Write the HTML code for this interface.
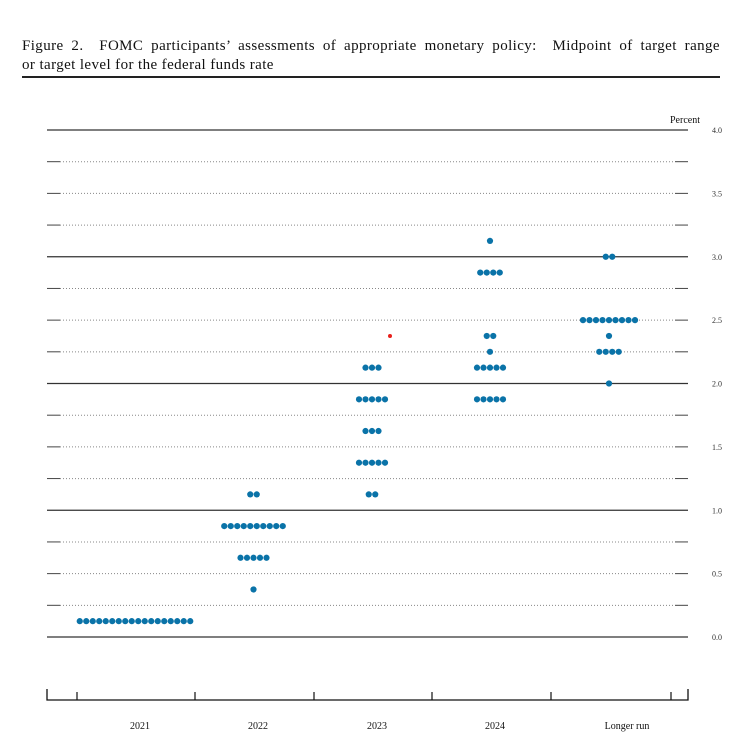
<!DOCTYPE html>
<html><head><meta charset="utf-8"><style>
body{margin:0;background:#fff;width:743px;height:755px;overflow:hidden;font-family:"Liberation Serif",serif}
.t{position:absolute;left:22px;font-size:15px;line-height:19px;color:#111;width:698px;white-space:nowrap;letter-spacing:0.4px}
.l1{top:37px;text-align:justify;text-align-last:justify}
.l2{top:56px}
.rule{position:absolute;left:22px;top:76px;width:698px;height:2px;background:#222}
</style></head><body>
<div>
<div class="t l1">Figure 2.&nbsp; FOMC participants’ assessments of appropriate monetary policy:&nbsp; Midpoint of target range</div>
<div class="t l2">or target level for the federal funds rate</div>
</div>
<div class="rule"></div>
<svg id="c" width="743" height="755" style="position:absolute;left:0;top:0"></svg>
<script>
const categories=["2021","2022","2023","2024","Longer run"];
const levels=[
 [0.125],
 [1.125,0.875,0.625,0.375],
 [2.125,1.875,1.625,1.375,1.125],
 [3.125,2.875,2.375,2.25,2.125,1.875],
 [3.0,2.5,2.375,2.25,2.0]];
const counts=[
 [18],
 [2,10,5,1],
 [3,5,3,5,2],
 [1,4,2,1,5,5],
 [2,9,1,4,1]];
const medianMarker={cat:2,value:2.375};
const yTicks=[0,0.5,1,1.5,2,2.5,3,3.5,4];
const yTickLabels=["0.0","0.5","1.0","1.5","2.0","2.5","3.0","3.5","4.0"];
const ns="http://www.w3.org/2000/svg";
const svg=document.getElementById('c');
const y=v=>637-v*126.75;
const centers=[135,253.5,372,490,609];
const x=i=>centers[i];
function mk(t,a){const e=document.createElementNS(ns,t);for(const k in a)e.setAttribute(k,a[k]);svg.appendChild(e);return e;}
for(let v=0;v<=4.001;v+=0.25){
 const major=Math.abs(v-Math.round(v))<1e-6;
 const yy=y(v);
 let l;
 if(major){l=mk('line',{x1:47,x2:688,y1:yy,y2:yy,stroke:'#333','stroke-width':1.2});}
 else{
  mk('line',{x1:47,x2:60,y1:yy,y2:yy,stroke:'#444','stroke-width':1});
  l=mk('line',{x1:60,x2:675,y1:yy,y2:yy,stroke:'#888','stroke-width':1,'stroke-dasharray':'1,2'});
  mk('line',{x1:675,x2:688,y1:yy,y2:yy,stroke:'#444','stroke-width':1});
 }
 
 
}
yTicks.forEach((v,i)=>{const t=mk('text',{x:712,y:y(v)+3,'font-size':8,'font-family':'Liberation Serif, serif',fill:'#333'});t.textContent=yTickLabels[i];
 
 });
const p=mk('text',{x:670,y:123,'font-size':10,'font-family':'Liberation Serif, serif',fill:'#111'});p.textContent='Percent';


const ax=mk('path',{d:'M47,689V700H688V689',fill:'none',stroke:'#111','stroke-width':1.3});


[77,195,314,432,551,671].forEach(tx=>{const t=mk('line',{x1:tx,x2:tx,y1:692,y2:700,stroke:'#111','stroke-width':1.2});
 
 });
const labX=[140,258,377,495,627];
categories.forEach((c,i)=>{const t=mk('text',{x:labX[i],y:729,'font-size':10,'text-anchor':'middle','font-family':'Liberation Serif, serif',fill:'#111'});t.textContent=c;
 
 });
const sp=6.5;
levels.forEach((lv,i)=>lv.forEach((v,j)=>{const n=counts[i][j];
 for(let k=0;k<n;k++){const cx=x(i)+(k-(n-1)/2)*sp;
  const d=mk('circle',{cx:cx,cy:y(v),r:3.1,fill:'#0a73a8'});
  
  }
}));
const m=mk('circle',{cx:x(medianMarker.cat)+18,cy:y(medianMarker.value),r:2,fill:'#e8201c'});


</script>
</body></html>
